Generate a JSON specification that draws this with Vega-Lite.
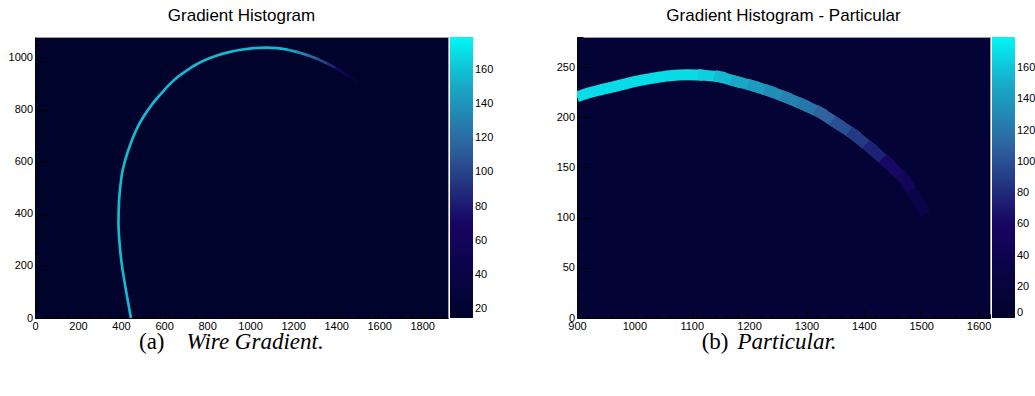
{
  "$schema": "https://vega.github.io/schema/vega-lite/v6.json",
  "padding": {"left": 7, "top": 6, "right": 0, "bottom": 0},
  "background": "white",
  "config": {
    "font": "Liberation Sans",
    "axis": {"labelFont": "Liberation Sans", "labelFontSize": 11, "labelColor": "#000", "tickColor": "#000", "tickWidth": 1, "domainColor": "#000", "grid": false, "labelFlush": false, "labelOverlap": false, "labelBound": false, "format": "d"},
    "title": {"font": "Liberation Sans", "fontSize": 17, "fontWeight": "normal", "color": "#000", "offset": 12, "anchor": "middle"},
    "legend": {"orient": "right", "direction": "vertical", "gradientLength": 281, "gradientThickness": 23, "offset": 2, "padding": 0, "labelFont": "Liberation Sans", "labelFontSize": 11, "labelColor": "#000", "labelOffset": 3, "labelOverlap": false, "gradientStrokeWidth": 0, "format": "d"}
  },
  "datasets": {
    "arcMain": [
      {"i": 0, "x": 446, "y": 0, "v": 157},
      {"i": 1, "x": 435, "y": 50, "v": 157},
      {"i": 2, "x": 423, "y": 106, "v": 157},
      {"i": 3, "x": 412, "y": 160, "v": 157},
      {"i": 4, "x": 403, "y": 209, "v": 157},
      {"i": 5, "x": 396, "y": 260, "v": 157},
      {"i": 6, "x": 391, "y": 311, "v": 157},
      {"i": 7, "x": 388, "y": 363, "v": 157},
      {"i": 8, "x": 389, "y": 410, "v": 157},
      {"i": 9, "x": 391, "y": 452, "v": 157},
      {"i": 10, "x": 395, "y": 492, "v": 157},
      {"i": 11, "x": 400, "y": 529, "v": 157},
      {"i": 12, "x": 406, "y": 562, "v": 157},
      {"i": 13, "x": 415, "y": 593, "v": 157},
      {"i": 14, "x": 426, "y": 625, "v": 157},
      {"i": 15, "x": 439, "y": 657, "v": 157},
      {"i": 16, "x": 457, "y": 697, "v": 157},
      {"i": 17, "x": 477, "y": 734, "v": 157},
      {"i": 18, "x": 500, "y": 768, "v": 157},
      {"i": 19, "x": 524, "y": 798, "v": 157},
      {"i": 20, "x": 553, "y": 831, "v": 157},
      {"i": 21, "x": 586, "y": 862, "v": 157},
      {"i": 22, "x": 622, "y": 895, "v": 157},
      {"i": 23, "x": 663, "y": 926, "v": 157},
      {"i": 24, "x": 708, "y": 953, "v": 157},
      {"i": 25, "x": 756, "y": 977, "v": 157},
      {"i": 26, "x": 802, "y": 995, "v": 157},
      {"i": 27, "x": 850, "y": 1010, "v": 157},
      {"i": 28, "x": 903, "y": 1022, "v": 157},
      {"i": 29, "x": 958, "y": 1031, "v": 157},
      {"i": 30, "x": 1016, "y": 1037, "v": 157},
      {"i": 31, "x": 1074, "y": 1039, "v": 157},
      {"i": 32, "x": 1125, "y": 1037, "v": 157},
      {"i": 33, "x": 1175, "y": 1031, "v": 157}
    ],
    "arcTail": [
      {"seg": 1, "x": 1175, "y": 1031, "v": 145}, {"seg": 1, "x": 1220, "y": 1022, "v": 145},
      {"seg": 2, "x": 1220, "y": 1022, "v": 132}, {"seg": 2, "x": 1268, "y": 1010, "v": 132},
      {"seg": 3, "x": 1268, "y": 1010, "v": 118}, {"seg": 3, "x": 1315, "y": 995, "v": 118},
      {"seg": 4, "x": 1315, "y": 995, "v": 102}, {"seg": 4, "x": 1361, "y": 977, "v": 102},
      {"seg": 5, "x": 1361, "y": 977, "v": 86}, {"seg": 5, "x": 1400, "y": 960, "v": 86},
      {"seg": 6, "x": 1400, "y": 960, "v": 68}, {"seg": 6, "x": 1439, "y": 939, "v": 68},
      {"seg": 7, "x": 1439, "y": 939, "v": 50}, {"seg": 7, "x": 1470, "y": 922, "v": 50},
      {"seg": 8, "x": 1470, "y": 922, "v": 32}, {"seg": 8, "x": 1493, "y": 907, "v": 32}
    ],
    "bandMain": [
      {"i": 0, "x": 900, "y": 220.5, "v": 170},
      {"i": 1, "x": 917, "y": 223.7, "v": 170},
      {"i": 2, "x": 946, "y": 228, "v": 170},
      {"i": 3, "x": 975, "y": 232, "v": 170},
      {"i": 4, "x": 1004, "y": 236, "v": 170},
      {"i": 5, "x": 1033, "y": 239, "v": 170},
      {"i": 6, "x": 1062, "y": 241.3, "v": 170},
      {"i": 7, "x": 1091, "y": 242.3, "v": 170},
      {"i": 8, "x": 1120, "y": 242, "v": 170}
    ],
    "bandTail": [
      {"seg": 1, "x": 1120, "y": 242, "v": 165}, {"seg": 1, "x": 1149, "y": 240.3, "v": 165},
      {"seg": 2, "x": 1149, "y": 240.3, "v": 156}, {"seg": 2, "x": 1178, "y": 235.7, "v": 156},
      {"seg": 3, "x": 1178, "y": 235.7, "v": 148}, {"seg": 3, "x": 1207, "y": 231.3, "v": 148},
      {"seg": 4, "x": 1207, "y": 231.3, "v": 141}, {"seg": 4, "x": 1236, "y": 226, "v": 141},
      {"seg": 5, "x": 1236, "y": 226, "v": 134}, {"seg": 5, "x": 1265, "y": 219.7, "v": 134},
      {"seg": 6, "x": 1265, "y": 219.7, "v": 127}, {"seg": 6, "x": 1294, "y": 212.7, "v": 127},
      {"seg": 7, "x": 1294, "y": 212.7, "v": 120}, {"seg": 7, "x": 1324, "y": 204.7, "v": 120},
      {"seg": 8, "x": 1324, "y": 204.7, "v": 110}, {"seg": 8, "x": 1353, "y": 194, "v": 110},
      {"seg": 9, "x": 1353, "y": 194, "v": 100}, {"seg": 9, "x": 1382, "y": 183, "v": 100},
      {"seg": 10, "x": 1382, "y": 183, "v": 88}, {"seg": 10, "x": 1411, "y": 169.7, "v": 88},
      {"seg": 11, "x": 1411, "y": 169.7, "v": 76}, {"seg": 11, "x": 1440, "y": 155.3, "v": 76},
      {"seg": 12, "x": 1440, "y": 155.3, "v": 63}, {"seg": 12, "x": 1469, "y": 139, "v": 63},
      {"seg": 13, "x": 1469, "y": 139, "v": 50}, {"seg": 13, "x": 1488, "y": 123, "v": 50},
      {"seg": 14, "x": 1488, "y": 123, "v": 32}, {"seg": 14, "x": 1503, "y": 108, "v": 32}
    ]
  },
  "spacing": 60,
  "resolve": {"scale": {"x": "independent", "y": "independent", "color": "independent"}, "legend": {"color": "independent"}},
  "hconcat": [
    {
      "width": 413,
      "height": 281,
      "title": {"text": "Gradient Histogram"},
      "view": {"fill": "#00032b", "stroke": "#a0a0a0", "strokeWidth": 1},
      "resolve": {"axis": {"x": "independent", "y": "independent"}},
      "layer": [
        {
          "data": {"name": "arcMain"},
          "mark": {"type": "line", "strokeWidth": 2.7, "interpolate": "catmull-rom", "clip": true},
          "encoding": {
            "x": {"field": "x", "type": "quantitative", "scale": {"domain": [0, 1920], "nice": false, "zero": false},
              "axis": {"orient": "bottom", "values": [0, 200, 400, 600, 800, 1000, 1200, 1400, 1600, 1800], "tickSize": -8, "labelPadding": 10, "domain": true,
                "title": "(a)", "titleFont": "Liberation Serif", "titleFontSize": 23, "titleFontWeight": "normal", "titleColor": "#000", "titleAlign": "right", "titleBaseline": "alphabetic", "titleX": 129, "titleY": 30}},
            "y": {"field": "y", "type": "quantitative", "scale": {"domain": [0, 1080], "nice": false, "zero": false},
              "axis": {"orient": "left", "values": [0, 200, 400, 600, 800, 1000], "tickSize": -12.5, "labelPadding": 15, "domain": true, "title": null}},
            "color": {"field": "v", "type": "quantitative",
              "scale": {"domain": [15, 70.8, 115, 152.8, 179], "range": ["#00032b", "#170563", "#2e639e", "#17adc9", "#00f7f7"], "interpolate": "rgb"},
              "legend": {"title": null, "values": [20, 40, 60, 80, 100, 120, 140, 160]}},
            "order": {"field": "i", "type": "quantitative"}
          }
        },
        {
          "data": {"name": "arcTail"},
          "mark": {"type": "line", "strokeWidth": 2.7, "strokeCap": "square", "clip": true},
          "encoding": {
            "x": {"field": "x", "type": "quantitative",
              "axis": {"orient": "bottom", "values": [50, 100, 150, 250, 300, 350, 450, 500, 550, 650, 700, 750, 850, 900, 950, 1050, 1100, 1150, 1250, 1300, 1350, 1450, 1500, 1550, 1650, 1700, 1750, 1850, 1900], "tickSize": -4, "labels": false, "domain": false,
                "title": "Wire Gradient.", "titleFont": "Liberation Serif", "titleFontSize": 23, "titleFontWeight": "normal", "titleFontStyle": "italic", "titleColor": "#000", "titleAlign": "left", "titleBaseline": "alphabetic", "titleX": 151, "titleY": 30}},
            "y": {"field": "y", "type": "quantitative",
              "axis": {"orient": "left", "values": [50, 100, 150, 250, 300, 350, 450, 500, 550, 650, 700, 750, 850, 900, 950, 1050], "tickSize": -6, "labels": false, "domain": false, "title": null}},
            "color": {"field": "v", "type": "quantitative"},
            "detail": {"field": "seg", "type": "nominal"}
          }
        }
      ]
    },
    {
      "width": 413,
      "height": 281,
      "title": {"text": "Gradient Histogram - Particular"},
      "view": {"fill": "#040336", "stroke": "#a0a0a0", "strokeWidth": 1},
      "resolve": {"axis": {"x": "independent", "y": "independent"}},
      "layer": [
        {
          "data": {"name": "bandMain"},
          "mark": {"type": "line", "strokeWidth": 11, "interpolate": "catmull-rom", "clip": true},
          "encoding": {
            "x": {"field": "x", "type": "quantitative", "scale": {"domain": [900, 1620], "nice": false, "zero": false},
              "axis": {"orient": "bottom", "values": [900, 1000, 1100, 1200, 1300, 1400, 1500, 1600], "tickSize": -8, "labelPadding": 10, "domain": true,
                "title": "(b)", "titleFont": "Liberation Serif", "titleFontSize": 23, "titleFontWeight": "normal", "titleColor": "#000", "titleAlign": "right", "titleBaseline": "alphabetic", "titleX": 151, "titleY": 30}},
            "y": {"field": "y", "type": "quantitative", "scale": {"domain": [0, 280], "nice": false, "zero": false},
              "axis": {"orient": "left", "values": [0, 50, 100, 150, 200, 250], "tickSize": -12.5, "labelPadding": 15, "domain": true, "title": null}},
            "color": {"field": "v", "type": "quantitative",
              "scale": {"domain": [0, 61.2, 109.8, 151.2, 180], "range": ["#00032b", "#170563", "#2e639e", "#17adc9", "#00f7f7"], "interpolate": "rgb"},
              "legend": {"title": null, "values": [0, 20, 40, 60, 80, 100, 120, 140, 160]}},
            "order": {"field": "i", "type": "quantitative"}
          }
        },
        {
          "data": {"name": "bandTail"},
          "mark": {"type": "line", "strokeWidth": 11, "strokeCap": "square", "clip": true},
          "encoding": {
            "x": {"field": "x", "type": "quantitative",
              "axis": {"orient": "bottom", "values": [920, 940, 960, 980, 1020, 1040, 1060, 1080, 1120, 1140, 1160, 1180, 1220, 1240, 1260, 1280, 1320, 1340, 1360, 1380, 1420, 1440, 1460, 1480, 1520, 1540, 1560, 1580, 1620], "tickSize": -4, "labels": false, "domain": false,
                "title": "Particular.", "titleFont": "Liberation Serif", "titleFontSize": 23, "titleFontWeight": "normal", "titleFontStyle": "italic", "titleColor": "#000", "titleAlign": "left", "titleBaseline": "alphabetic", "titleX": 160, "titleY": 30}},
            "y": {"field": "y", "type": "quantitative",
              "axis": {"orient": "left", "values": [10, 20, 30, 40, 60, 70, 80, 90, 110, 120, 130, 140, 160, 170, 180, 190, 210, 220, 230, 240, 260, 270, 280], "tickSize": -6, "labels": false, "domain": false, "title": null}},
            "color": {"field": "v", "type": "quantitative"},
            "detail": {"field": "seg", "type": "nominal"}
          }
        }
      ]
    }
  ]
}
